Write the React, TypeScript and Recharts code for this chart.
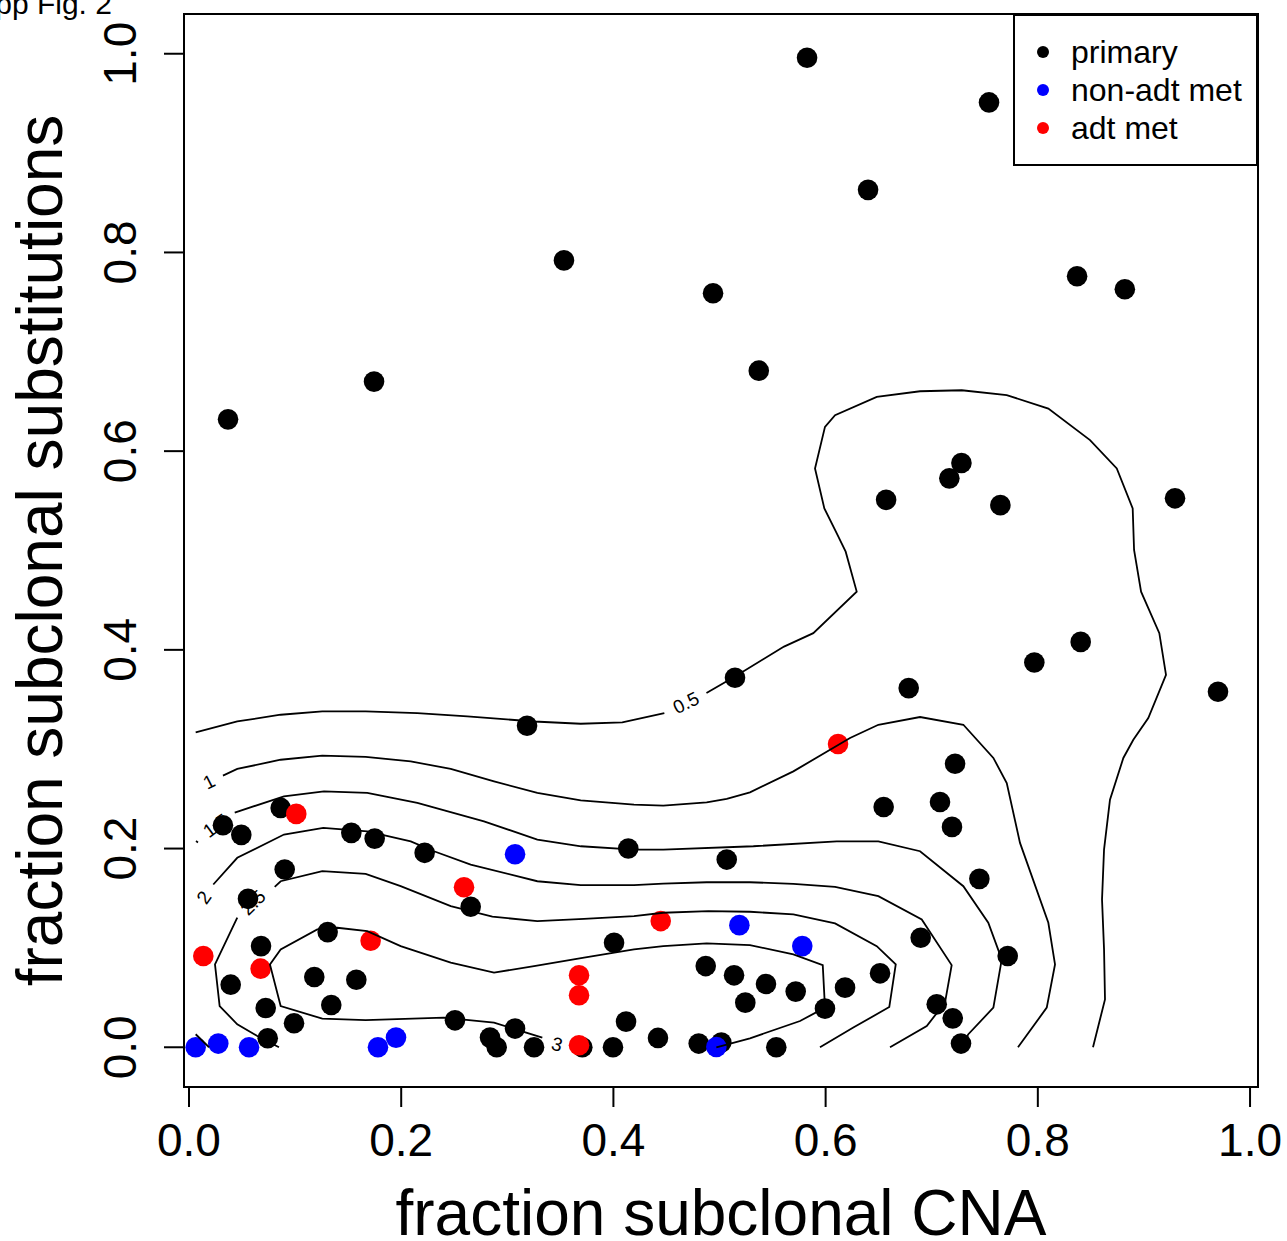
import React from 'react';
import { ScatterChart, Scatter, XAxis, YAxis, ReferenceArea, Legend } from 'recharts';

const FONT = '"Liberation Sans", Arial, Helvetica, sans-serif';

// ---- layout ----
const CHART_W = 1287;
const CHART_H = 1241;
const MARGIN = { top: 14, right: 29, bottom: 0, left: 0 };
const Y_AXIS_W = 184;
const X_AXIS_H = 154;
const PLOT_LEFT = MARGIN.left + Y_AXIS_W;
const PLOT_RIGHT = CHART_W - MARGIN.right;
const PLOT_TOP = MARGIN.top;
const PLOT_BOTTOM = CHART_H - MARGIN.bottom - X_AXIS_H;

// ---- axes ----
const xDomain: [number, number] = [-0.0047, 1.0075];
const yDomain: [number, number] = [-0.04, 1.04];
const xTicks = [0, 0.2, 0.4, 0.6, 0.8, 1.0];
const yTicks = [0, 0.2, 0.4, 0.6, 0.8, 1.0];
const xTitle = 'fraction subclonal CNA';
const yTitle = 'fraction subclonal substitutions';
const figTitle = 'Supp Fig. 2';

type Pt = [number, number];

// ---- samples: [fraction subclonal CNA, fraction subclonal substitutions] ----
const primary: Pt[] = [
  [0.5825, 0.996], [0.754, 0.951], [0.640, 0.863], [0.3534, 0.792], [0.4939, 0.759],
  [0.837, 0.776], [0.882, 0.763], [0.1744, 0.670], [0.537, 0.681], [0.0368, 0.632],
  [0.728, 0.588], [0.7166, 0.5726], [0.657, 0.551], [0.7647, 0.5457], [0.9293, 0.5525],
  [0.8404, 0.408], [0.7967, 0.3872], [0.6783, 0.3615], [0.722, 0.2854], [0.9698, 0.3578],
  [0.5146, 0.3719], [0.3186, 0.3236], [0.6547, 0.2419], [0.7078, 0.2469], [0.7191, 0.2218],
  [0.7449, 0.1695], [0.414, 0.200], [0.5068, 0.1889], [0.6896, 0.1102], [0.7716, 0.0918],
  [0.4006, 0.1052], [0.487, 0.0817], [0.5137, 0.0724], [0.5438, 0.0637], [0.5718, 0.0560],
  [0.5243, 0.0449], [0.6183, 0.060], [0.6513, 0.0744], [0.5994, 0.0389], [0.7047, 0.0432],
  [0.7198, 0.0291], [0.7276, 0.0037], [0.4119, 0.0258], [0.442, 0.0094], [0.4804, 0.0037],
  [0.5017, 0.0047], [0.5535, 0.0], [0.3996, 0.0], [0.0864, 0.2409], [0.032, 0.2234],
  [0.0493, 0.2138], [0.153, 0.2158], [0.175, 0.210], [0.2221, 0.1957], [0.0902, 0.1789],
  [0.2655, 0.1414], [0.0556, 0.1494], [0.1307, 0.1159], [0.0679, 0.1018], [0.1181, 0.0707],
  [0.1577, 0.068], [0.0393, 0.063], [0.1341, 0.0425], [0.0723, 0.0395], [0.099, 0.0241],
  [0.0742, 0.009], [0.2507, 0.0271], [0.2837, 0.0097], [0.29, 0.0], [0.3073, 0.0188],
  [0.3252, 0.0], [0.3707, 0.0],
];

const nonAdtMet: Pt[] = [
  [0.0063, 0.0], [0.0276, 0.0037], [0.0566, 0.0], [0.1781, 0.0], [0.1951, 0.0097],
  [0.3073, 0.1943], [0.497, 0.0003], [0.5187, 0.1229], [0.578, 0.1018],
];

const adtMet: Pt[] = [
  [0.1011, 0.2349], [0.2592, 0.1611], [0.1712, 0.1072], [0.0135, 0.0918], [0.0675, 0.0791],
  [0.3676, 0.0724], [0.3676, 0.0523], [0.3676, 0.002], [0.4446, 0.127], [0.6117, 0.3052],
];

// ---- density contour paths (pieces are split where the level labels sit) ----
const contour05a: Pt[] = [
  [0.0063, 0.3169], [0.0455, 0.3279], [0.0864, 0.3347], [0.1256, 0.3380], [0.1665, 0.3380],
  [0.2152, 0.3364], [0.2623, 0.3330], [0.3252, 0.3279], [0.3692, 0.3256], [0.4084, 0.3269],
  [0.4480, 0.3364],
];
const contour05b: Pt[] = [
  [0.4877, 0.3565], [0.5146, 0.3732], [0.5608, 0.4033], [0.5884, 0.4168], [0.6293, 0.4586],
  [0.6189, 0.4988], [0.6105, 0.5173], [0.5988, 0.5424], [0.5900, 0.5826], [0.5994, 0.6244],
  [0.6089, 0.6362], [0.6482, 0.6546], [0.6890, 0.6603], [0.7283, 0.6613], [0.7707, 0.6563],
  [0.8099, 0.6429], [0.8492, 0.6111], [0.8744, 0.5826], [0.8894, 0.5424], [0.8907, 0.5005],
  [0.8973, 0.4586], [0.9145, 0.4168], [0.9208, 0.3749], [0.9041, 0.3314], [0.8900, 0.3095],
  [0.8806, 0.2912], [0.8680, 0.2492], [0.8624, 0.1990], [0.8605, 0.1487], [0.8624, 0.0985],
  [0.8633, 0.0482], [0.8520, 0.0],
];
const contour10: Pt[] = [
  [0.0320, 0.2734], [0.0455, 0.2801], [0.0864, 0.2894], [0.1256, 0.2935], [0.1665, 0.2922],
  [0.2090, 0.2877], [0.2467, 0.2801], [0.2875, 0.2676], [0.3283, 0.2560], [0.3692, 0.2485],
  [0.4194, 0.2442], [0.4470, 0.2432], [0.4879, 0.2465], [0.5068, 0.2499], [0.5287, 0.2566],
  [0.5696, 0.2777], [0.6230, 0.3113], [0.6497, 0.3246], [0.6890, 0.3324], [0.7298, 0.3246],
  [0.7581, 0.2912], [0.7707, 0.2660], [0.7832, 0.2057], [0.8099, 0.1253], [0.8162, 0.0834],
  [0.8084, 0.0399], [0.7813, 0.0],
];
const contour15a: Pt[] = [[0.0066, 0.2075], [0.0085, 0.2062]];
const contour15b: Pt[] = [
  [0.0431, 0.2362], [0.0895, 0.2526], [0.1272, 0.2576], [0.1680, 0.2560], [0.2152, 0.2459],
  [0.2780, 0.2274], [0.3283, 0.2090], [0.3695, 0.2023], [0.4194, 0.1990], [0.4470, 0.1990],
  [0.5319, 0.2023], [0.6105, 0.2073], [0.6497, 0.2073], [0.6890, 0.1973], [0.7298, 0.1621],
  [0.7533, 0.1253], [0.7660, 0.0884], [0.7581, 0.0399], [0.7345, 0.0131], [0.7267, 0.0],
];
const contour20a: Pt[] = [
  [0.0229, 0.1638], [0.0455, 0.1907], [0.0895, 0.2141], [0.1266, 0.2208], [0.1680, 0.2174],
  [0.2090, 0.2073], [0.2309, 0.1973], [0.2655, 0.1839], [0.3283, 0.1671], [0.3692, 0.1631],
  [0.4194, 0.1631], [0.4470, 0.1648], [0.4879, 0.1661], [0.5287, 0.1661], [0.5696, 0.1645],
  [0.6089, 0.1615], [0.6497, 0.1521], [0.6906, 0.1286], [0.7188, 0.0827], [0.7125, 0.0449],
  [0.6953, 0.0214], [0.6607, 0.0],
];
const contour20b: Pt[] = [[0.0063, 0.0131], [0.0189, 0.0]];
const contour25a: Pt[] = [
  [0.0848, 0.0], [0.0644, 0.0114], [0.0455, 0.0231], [0.0289, 0.0415], [0.0245, 0.0834],
  [0.0455, 0.1304],
];
const contour25b: Pt[] = [
  [0.0808, 0.1615], [0.0864, 0.1671], [0.1256, 0.1772], [0.1665, 0.1746], [0.1995, 0.1621],
  [0.2467, 0.1420], [0.2859, 0.1314], [0.3283, 0.1269], [0.3723, 0.1293], [0.4194, 0.1320],
  [0.4470, 0.1354], [0.4894, 0.1370], [0.5287, 0.1364], [0.5696, 0.1337], [0.6089, 0.1246],
  [0.6482, 0.1018], [0.6661, 0.0834], [0.6600, 0.0405], [0.6261, 0.0198], [0.5947, 0.0],
];
const contour30: Pt[] = [
  [0.4970, 0.0], [0.5287, 0.0090], [0.5759, 0.0264], [0.5994, 0.0399], [0.5973, 0.0827],
  [0.5696, 0.0935], [0.5287, 0.1028], [0.4879, 0.1045], [0.4470, 0.1018], [0.4194, 0.0985],
  [0.3723, 0.0902], [0.3252, 0.0817], [0.2875, 0.0751], [0.2467, 0.0851], [0.1995, 0.1018],
  [0.1680, 0.1169], [0.1398, 0.1203], [0.1209, 0.1186], [0.0864, 0.0985], [0.0763, 0.0834],
  [0.0864, 0.0415], [0.1256, 0.0288], [0.1665, 0.0274], [0.2403, 0.0298], [0.2875, 0.0248],
  [0.3330, 0.0097],
];

const contourPieces: Pt[][] = [
  contour05a, contour05b, contour10, contour15a, contour15b,
  contour20a, contour20b, contour25a, contour25b, contour30,
];

const contourLabels = [
  { x: 0.4685, y: 0.3467, text: '0.5', angle: -26 },
  { x: 0.0189, y: 0.2673, text: '1', angle: -27 },
  { x: 0.0254, y: 0.2231, text: '1.5', angle: -36 },
  { x: 0.0141, y: 0.1508, text: '2', angle: -55 },
  { x: 0.0603, y: 0.1457, text: '2.5', angle: -45 },
  { x: 0.3468, y: 0.003, text: '3', angle: 15 },
];

const groups = [
  { name: 'primary', color: '#000000', points: primary },
  { name: 'non-adt met', color: '#0000FF', points: nonAdtMet },
  { name: 'adt met', color: '#FF0000', points: adtMet },
];

const toXY = (pts: Pt[]) => pts.map(([x, y]) => ({ x, y }));

const POINT_R = 10.3;

const makeDot = (color: string) => (props: any) => {
  const { cx, cy } = props;
  if (cx == null || cy == null) return <g />;
  return <circle cx={cx} cy={cy} r={POINT_R} fill={color} />;
};

const noShape = () => <g />;

const contourLabelShape = (props: any) => {
  const { cx, cy } = props;
  const p = props.payload ?? props;
  if (cx == null || cy == null) return <g />;
  return (
    <text
      x={cx}
      y={cy}
      transform={`rotate(${p.angle} ${cx} ${cy})`}
      textAnchor="middle"
      dominantBaseline="central"
      fontSize={19}
      fontFamily={FONT}
      fill="#000"
    >
      {p.text}
    </text>
  );
};

const XTick = (props: any) => {
  const { x, y, payload } = props;
  return (
    <text x={x} y={y + 49} textAnchor="middle" fontSize={46} fontFamily={FONT} fill="#000">
      {Number(payload.value).toFixed(1)}
    </text>
  );
};

const YTick = (props: any) => {
  const { x, y, payload } = props;
  const tx = x - 28;
  return (
    <text
      x={tx}
      y={y}
      transform={`rotate(-90 ${tx} ${y})`}
      textAnchor="middle"
      fontSize={46}
      fontFamily={FONT}
      fill="#000"
    >
      {Number(payload.value).toFixed(1)}
    </text>
  );
};

const XTitle = (props: any) => {
  const vb = props.viewBox ?? { x: PLOT_LEFT, y: PLOT_BOTTOM, width: PLOT_RIGHT - PLOT_LEFT, height: X_AXIS_H };
  const cx = vb.x + vb.width / 2;
  const by = vb.y + 148;
  return (
    <text x={cx} y={by} textAnchor="middle" fontSize={64} fontFamily={FONT} fill="#000">
      {xTitle}
    </text>
  );
};

const YTitle = (props: any) => {
  const vb = props.viewBox ?? { x: MARGIN.left, y: PLOT_TOP, width: Y_AXIS_W, height: PLOT_BOTTOM - PLOT_TOP };
  const bx = vb.x + 62;
  const cy = vb.y + vb.height / 2;
  return (
    <text
      x={bx}
      y={cy}
      transform={`rotate(-90 ${bx} ${cy})`}
      textAnchor="middle"
      fontSize={64}
      fontFamily={FONT}
      fill="#000"
    >
      {yTitle}
    </text>
  );
};

const LEGEND_W = 245;
const LEGEND_H = 152;

const renderLegend = () => (
  <div
    style={{
      width: LEGEND_W,
      height: LEGEND_H,
      boxSizing: 'border-box',
      border: '2px solid #000',
      background: '#fff',
    }}
  >
    <svg width={LEGEND_W - 4} height={LEGEND_H - 4} style={{ display: 'block' }}>
      {groups.map((g, i) => {
        const cy = 36 + 38 * i;
        return (
          <g key={g.name}>
            <circle cx={28} cy={cy} r={6} fill={g.color} />
            <text x={56} y={cy + 11} fontSize={32} fontFamily={FONT} fill="#000">
              {g.name}
            </text>
          </g>
        );
      })}
    </svg>
  </div>
);

export default function App() {
  return (
    <div style={{ position: 'absolute', left: 0, top: 0, width: CHART_W, height: CHART_H, background: '#fff' }}>
      <ScatterChart width={CHART_W} height={CHART_H} margin={MARGIN}>
        <XAxis
          type="number"
          dataKey="x"
          domain={xDomain}
          ticks={xTicks}
          interval={0}
          allowDataOverflow
          height={X_AXIS_H}
          axisLine={false}
          tickLine={{ stroke: '#000', strokeWidth: 2 }}
          tickSize={20}
          tickMargin={0}
          tick={XTick}
          label={XTitle}
        />
        <YAxis
          type="number"
          dataKey="y"
          domain={yDomain}
          ticks={yTicks}
          interval={0}
          allowDataOverflow
          width={Y_AXIS_W}
          axisLine={false}
          tickLine={{ stroke: '#000', strokeWidth: 2 }}
          tickSize={20}
          tickMargin={0}
          tick={YTick}
          label={YTitle}
        />
        {groups.map((g) => (
          <Scatter
            key={g.name}
            name={g.name}
            data={toXY(g.points)}
            fill={g.color}
            shape={makeDot(g.color)}
            isAnimationActive={false}
          />
        ))}
        {contourPieces.map((piece, i) => (
          <Scatter
            key={`contour-${i}`}
            data={toXY(piece)}
            line={{ stroke: '#000', strokeWidth: 1.8, fill: 'none' }}
            lineType="joint"
            shape={noShape}
            legendType="none"
            isAnimationActive={false}
          />
        ))}
        <Scatter
          data={contourLabels}
          shape={contourLabelShape}
          legendType="none"
          isAnimationActive={false}
        />
        <ReferenceArea
          x1={xDomain[0]}
          x2={xDomain[1]}
          y1={yDomain[0]}
          y2={yDomain[1]}
          fill="none"
          stroke="#000"
          strokeWidth={2}
          ifOverflow="visible"
        />
        <Legend
          layout="vertical"
          align="center"
          verticalAlign="middle"
          content={renderLegend}
          wrapperStyle={{
            position: 'absolute',
            left: PLOT_RIGHT - LEGEND_W,
            top: PLOT_TOP,
            width: LEGEND_W,
            height: LEGEND_H,
            margin: 0,
            padding: 0,
          }}
        />
      </ScatterChart>
      <svg
        width={CHART_W}
        height={CHART_H}
        style={{ position: 'absolute', left: 0, top: 0, pointerEvents: 'none' }}
      >
        <text x={-41.5} y={14} fontSize={30} fontFamily={FONT} fill="#000">
          {figTitle}
        </text>
      </svg>
    </div>
  );
}
